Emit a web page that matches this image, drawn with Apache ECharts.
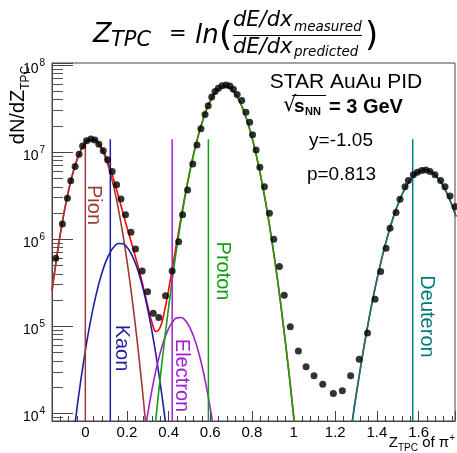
<!DOCTYPE html>
<html><head><meta charset="utf-8">
<script src="https://cdn.jsdelivr.net/npm/echarts@6/dist/echarts.min.js"></script>
<style>html,body{margin:0;padding:0;background:#fff}#c{width:457px;height:453px}</style>
</head><body><div id="c"></div>
<script>
// ---- data ----
const points = [[-0.142,6.0e5],[-0.110,1.48e6],[-0.086,2.94e6],[-0.070,4.65e6],[-0.049,6.78e6],[-0.030,9.4e6],[-0.013,1.17e7],[0.006,1.34e7],[0.027,1.41e7],[0.046,1.37e7],[0.065,1.22e7],[0.086,1.03e7],[0.107,8.1e6],[0.129,5.94e6],[0.150,4.18e6],[0.171,2.88e6],[0.193,1.89e6],[0.219,1.19e6],[0.241,7.67e5],[0.273,4.29e5],[0.299,2.48e5],[0.326,1.40e5],[0.353,1.25e5],[0.385,2.23e5],[0.417,4.29e5],[0.448,9.31e5],[0.467,1.89e6],[0.491,3.66e6],[0.516,7.28e6],[0.536,1.20e7],[0.555,1.84e7],[0.575,2.69e7],[0.590,3.39e7],[0.607,4.27e7],[0.623,4.93e7],[0.639,5.40e7],[0.657,5.74e7],[0.676,5.86e7],[0.694,5.70e7],[0.711,5.25e7],[0.729,4.57e7],[0.751,3.89e7],[0.771,2.85e7],[0.789,2.19e7],[0.803,1.57e7],[0.820,1.05e7],[0.838,6.67e6],[0.860,3.99e6],[0.884,1.97e6],[0.905,9.93e5],[0.932,4.81e5],[0.955,2.25e5],[0.984,9.82e4],[1.023,5.16e4],[1.060,3.41e4],[1.098,2.69e4],[1.140,2.14e4],[1.191,1.68e4],[1.234,1.80e4],[1.274,2.69e4],[1.315,4.14e4],[1.355,8.32e4],[1.391,2.03e5],[1.418,4.22e5],[1.444,7.82e5],[1.463,1.33e6],[1.492,2.01e6],[1.511,2.86e6],[1.535,3.99e6],[1.551,4.69e6],[1.575,5.45e6],[1.594,5.85e6],[1.615,6.10e6],[1.635,6.21e6],[1.655,5.94e6],[1.679,5.45e6],[1.706,4.69e6],[1.727,3.99e6],[1.751,3.12e6],[1.775,2.35e6]];

const pionFit = [[-0.16,2.51e5],[-0.14,5.60e5],[-0.12,1.14e6],[-0.10,2.13e6],[-0.08,3.64e6],[-0.06,5.68e6],[-0.04,8.11e6],[-0.02,1.06e7],[0.00,1.26e7],[0.02,1.38e7],[0.04,1.38e7],[0.06,1.26e7],[0.08,1.06e7],[0.10,8.11e6],[0.12,5.68e6],[0.14,3.64e6],[0.16,2.13e6],[0.18,1.14e6],[0.20,5.60e5],[0.22,2.51e5],[0.24,1.03e5],[0.26,3.86e4],[0.28,1.33e4],[0.30,4.17e3]];

const kaonFit = [[-0.06,4.73e3],[-0.04,1.14e4],[-0.02,2.53e4],[0.00,5.19e4],[0.02,9.82e4],[0.04,1.71e5],[0.06,2.75e5],[0.08,4.08e5],[0.10,5.60e5],[0.12,7.06e5],[0.14,8.24e5],[0.16,8.85e5],[0.18,8.79e5],[0.20,8.04e5],[0.22,6.79e5],[0.24,5.28e5],[0.26,3.80e5],[0.28,2.52e5],[0.30,1.54e5],[0.32,8.69e4],[0.34,4.53e4],[0.36,2.17e4],[0.38,9.62e3],[0.40,3.94e3]];

const electronFit = [[0.28,4.86e3],[0.30,9.93e3],[0.32,1.85e4],[0.34,3.17e4],[0.36,4.97e4],[0.38,7.13e4],[0.40,9.35e4],[0.42,1.12e5],[0.44,1.24e5],[0.46,1.25e5],[0.48,1.16e5],[0.50,9.77e4],[0.52,7.57e4],[0.54,5.37e4],[0.56,3.49e4],[0.58,2.08e4],[0.60,1.13e4],[0.62,5.65e3]];

const protonFit = [[0.31,1.76e3],[0.34,9.23e3],[0.37,4.20e4],[0.40,1.65e5],[0.43,5.64e5],[0.46,1.66e6],[0.49,4.24e6],[0.52,9.38e6],[0.55,1.79e7],[0.58,2.97e7],[0.61,4.27e7],[0.64,5.30e7],[0.67,5.69e7],[0.70,5.30e7],[0.73,4.27e7],[0.76,2.97e7],[0.79,1.79e7],[0.82,9.38e6],[0.85,4.24e6],[0.88,1.66e6],[0.91,5.64e5],[0.94,1.65e5],[0.97,4.20e4],[1.00,9.23e3],[1.03,1.76e3]];

const deuteronFit = [[1.27,5.08e3],[1.30,1.58e4],[1.33,4.46e4],[1.36,1.14e5],[1.39,2.64e5],[1.42,5.52e5],[1.45,1.05e6],[1.48,1.81e6],[1.51,2.82e6],[1.54,3.98e6],[1.57,5.09e6],[1.60,5.92e6],[1.63,6.21e6],[1.66,5.92e6],[1.69,5.09e6],[1.72,3.98e6],[1.75,2.82e6],[1.78,1.81e6]];

const totalFit = [[-0.16,2.51e5],[-0.14,5.60e5],[-0.12,1.14e6],[-0.10,2.13e6],[-0.08,3.64e6],[-0.06,5.68e6],[-0.04,8.11e6],[-0.02,1.06e7],[0.00,1.265e7],[0.02,1.39e7],[0.04,1.40e7],[0.06,1.29e7],[0.08,1.10e7],[0.10,8.67e6],[0.12,6.39e6],[0.14,4.46e6],[0.16,3.02e6],[0.18,2.02e6],[0.20,1.36e6],[0.22,9.30e5],[0.24,6.31e5],[0.26,4.21e5],[0.28,2.70e5],[0.30,1.69e5],[0.32,1.10e5],[0.34,8.65e4],[0.36,9.72e4],[0.38,1.48e5],[0.40,2.62e5],[0.42,4.94e5],[0.44,9.44e5],[0.46,1.79e6],[0.48,3.28e6],[0.50,5.71e6],[0.52,9.46e6],[0.55,1.79e7],[0.58,2.97e7],[0.61,4.27e7],[0.64,5.30e7],[0.67,5.69e7],[0.70,5.30e7],[0.73,4.27e7],[0.76,2.97e7],[0.79,1.79e7],[0.82,9.38e6],[0.85,4.24e6],[0.88,1.66e6],[0.91,5.64e5],[0.94,1.65e5],[0.97,4.20e4],[1.00,9.23e3],[1.03,1.76e3],[1.06,290],[1.15,20],[1.24,1.48e3],[1.27,5.08e3],[1.30,1.58e4],[1.33,4.46e4],[1.36,1.14e5],[1.39,2.64e5],[1.42,5.52e5],[1.45,1.05e6],[1.48,1.81e6],[1.51,2.82e6],[1.54,3.98e6],[1.57,5.09e6],[1.60,5.92e6],[1.63,6.21e6],[1.66,5.92e6],[1.69,5.09e6],[1.72,3.98e6],[1.75,2.82e6],[1.78,1.81e6]];

const markerNames = ['Pion','Kaon','Electron','Proton','Deuteron'];
const markerX = [0.0, 0.12, 0.417, 0.591, 1.572];
const markerTop = 1.4e7;

const xMin = -0.16, xMax = 1.775;
const yMin = 8100, yMax = 1.05e8;
const yMajorTicks = [1e4, 1e5, 1e6, 1e7, 1e8];
const yTickBase = '10';
const yTickExp = ['4', '5', '6', '7', '8'];
const yMinorTicks = [9e3,2e4,3e4,4e4,5e4,6e4,7e4,8e4,9e4,2e5,3e5,4e5,5e5,6e5,7e5,8e5,9e5,2e6,3e6,4e6,5e6,6e6,7e6,8e6,9e6,2e7,3e7,4e7,5e7,6e7,7e7,8e7,9e7];

// ---- styles ----
const colors = {total:'#ff0000', Pion:'#9c3a35', Kaon:'#1f1fa0', Electron:'#a020d0', Proton:'#11a011', Deuteron:'#007b7b'};
const FONT = '"Liberation Sans", Arial, sans-serif';
const MFONT = '"DejaVu Sans", sans-serif';

const chart = echarts.init(document.getElementById('c'), null, {renderer:'canvas'});

function fitSeries(data, color, z) {
  return {type:'line', data, smooth:true, showSymbol:false, symbol:'none', z,
    lineStyle:{color, width:1.6}, itemStyle:{color}, silent:true, clip:true, animation:false};
}

const series = [
  fitSeries(totalFit, colors.total, 2),
  fitSeries(pionFit, colors.Pion, 3),
  fitSeries(kaonFit, colors.Kaon, 3),
  fitSeries(electronFit, colors.Electron, 3),
  fitSeries(protonFit, colors.Proton, 3),
  fitSeries(deuteronFit, colors.Deuteron, 3),
];
markerNames.forEach((n, i) => {
  series.push({type:'line', data:[[markerX[i], markerTop],[markerX[i], yMin]], showSymbol:false, symbol:'none', z:3,
    lineStyle:{color:colors[n], width:1.5}, silent:true});
});
series.push({
  type:'custom', coordinateSystem:'cartesian2d', silent:true, z:1,
  data: yMinorTicks.map(v => [xMin, v]),
  renderItem: (params, api) => {
    const p = api.coord([api.value(0), api.value(1)]);
    return {type:'line', shape:{x1:p[0], y1:Math.round(p[1])+0.5, x2:p[0]+11, y2:Math.round(p[1])+0.5}, style:{stroke:'#555', lineWidth:1}};
  }
});
series.push({type:'scatter', data:points, symbol:'circle', symbolSize:7, z:5,
  itemStyle:{color:'#000'}, silent:true});

const labelPos = {Pion:[94,205], Kaon:[122,348], Electron:[181.5,375.5], Proton:[222.5,271], Deuteron:[426.5,316.5]};

const graphic = [
  // title formula
  {type:'text', x:93, y:35, style:{text:'Z', font:'italic 27px '+MFONT, fill:'#000', verticalAlign:'middle'}},
  {type:'text', x:111, y:41, style:{text:'TPC', font:'italic 21px '+MFONT, fill:'#000', verticalAlign:'middle'}},
  {type:'text', x:169, y:35, style:{text:'=', font:'21px '+MFONT, fill:'#000', verticalAlign:'middle'}},
  {type:'text', x:195, y:36, style:{text:'ln', font:'italic 26px '+MFONT, fill:'#000', verticalAlign:'middle'}},
  {type:'text', x:219, y:37, style:{text:'(', font:'34px '+MFONT, fill:'#000', verticalAlign:'middle'}},
  {type:'text', x:233, y:20.5, style:{text:'dE/dx', font:'italic 21px '+MFONT, fill:'#000', verticalAlign:'middle'}},
  {type:'text', x:294, y:27, style:{text:'measured', font:'italic 13.5px '+MFONT, fill:'#000', verticalAlign:'middle'}},
  {type:'line', shape:{x1:233, y1:35.5, x2:362, y2:35.5}, style:{stroke:'#000', lineWidth:1}},
  {type:'text', x:233, y:47.5, style:{text:'dE/dx', font:'italic 21px '+MFONT, fill:'#000', verticalAlign:'middle'}},
  {type:'text', x:294, y:52.5, style:{text:'predicted', font:'italic 13.5px '+MFONT, fill:'#000', verticalAlign:'middle'}},
  {type:'text', x:365, y:37, style:{text:')', font:'34px '+MFONT, fill:'#000', verticalAlign:'middle'}},
  // in-plot texts
  {type:'text', x:346, y:82, z:10, style:{text:'STAR AuAu PID', font:'21px '+FONT, fill:'#000', align:'center', verticalAlign:'middle'}},
  {type:'text', x:283, y:106, z:10, style:{text:'\u221A', font:'21px '+MFONT, fill:'#000', verticalAlign:'middle'}},
  {type:'line', z:10, shape:{x1:292, y1:95.5, x2:326, y2:95.5}, style:{stroke:'#000', lineWidth:1}},
  {type:'text', x:294, y:107, z:10, style:{text:'s', font:'bold 19px '+FONT, fill:'#000', verticalAlign:'middle'}},
  {type:'text', x:305, y:112, z:10, style:{text:'NN', font:'bold 11px '+FONT, fill:'#000', verticalAlign:'middle'}},
  {type:'text', x:329, y:107, z:10, style:{text:'= 3 GeV', font:'bold 20px '+FONT, fill:'#000', verticalAlign:'middle'}},
  {type:'text', x:341, y:141, z:10, style:{text:'y=-1.05', font:'19px '+FONT, fill:'#000', align:'center', verticalAlign:'middle'}},
  {type:'text', x:341.5, y:175, z:10, style:{text:'p=0.813', font:'19px '+FONT, fill:'#000', align:'center', verticalAlign:'middle'}},
  // axis titles
  {type:'text', x:20, y:105, rotation:Math.PI/2, style:{text:'{a|dN/dZ}{b|TPC}', align:'center', verticalAlign:'middle', fill:'#000',
    rich:{a:{fontSize:20, fontFamily:FONT, lineHeight:23, verticalAlign:'top', fill:'#000'}, b:{fontSize:12, fontFamily:FONT, lineHeight:12, verticalAlign:'bottom', fill:'#000'}}}},
  {type:'text', x:455, y:443, style:{text:'{a|Z}{b|TPC}{a| of \u03C0}{c|+}', align:'right', verticalAlign:'middle', fill:'#000',
    rich:{a:{fontSize:15, fontFamily:FONT, lineHeight:20, verticalAlign:'middle', fill:'#000'}, b:{fontSize:10, fontFamily:FONT, lineHeight:10, verticalAlign:'bottom', fill:'#000'}, c:{fontSize:10, fontFamily:FONT, lineHeight:10, verticalAlign:'top', fill:'#000'}}}}
];
markerNames.forEach(n => {
  graphic.push({type:'text', x:labelPos[n][0], y:labelPos[n][1], rotation:-Math.PI/2, z:10,
    style:{text:n, font:'20px '+FONT, fill:colors[n], align:'center', verticalAlign:'middle'}});
});

chart.setOption({
  animation:false,
  backgroundColor:'#fff',
  grid:{left:52, right:2, top:63, bottom:32, show:true, borderColor:'#444', borderWidth:1, backgroundColor:'transparent', containLabel:false, outerBoundsMode:'none'},
  xAxis:{type:'value', min:xMin, max:xMax, splitNumber:10,
    axisLine:{show:true, onZero:false, lineStyle:{color:'#444', width:1}},
    axisTick:{show:true, inside:true, length:10, lineStyle:{color:'#444'}},
    minorTick:{show:true, splitNumber:5, length:5, lineStyle:{color:'#444'}},
    splitLine:{show:false}, minorSplitLine:{show:false},
    axisLabel:{show:true, margin:4, color:'#000', fontSize:15, fontFamily:FONT, showMinLabel:false, showMaxLabel:false,
      formatter: v => { const k = v/0.2; return Math.abs(k-Math.round(k))<1e-6 ? String(Math.round(k*2)/10) : ''; }}
  },
  yAxis:{type:'log', logBase:10, min:yMin, max:yMax,
    axisLine:{show:true, onZero:false, lineStyle:{color:'#444', width:1}},
    axisTick:{show:true, inside:true, length:21, lineStyle:{color:'#444'}},
    minorTick:{show:false}, splitLine:{show:false},
    axisLabel:{show:false}
  },
  graphic,
  series
});

// y tick labels (10^n) placed at the axis' own tick positions
yMajorTicks.forEach((v, i) => {
  const py = chart.convertToPixel({yAxisIndex:0}, v);
  graphic.push({type:'text', x:38.5, y:py + 4, style:{text:yTickBase, font:'14px '+FONT, fill:'#000', align:'right', verticalAlign:'middle'}});
  graphic.push({type:'text', x:39.5, y:py - 2, style:{text:yTickExp[i], font:'10px '+FONT, fill:'#000', align:'left', verticalAlign:'middle'}});
});
chart.setOption({graphic});
</script></body></html>
